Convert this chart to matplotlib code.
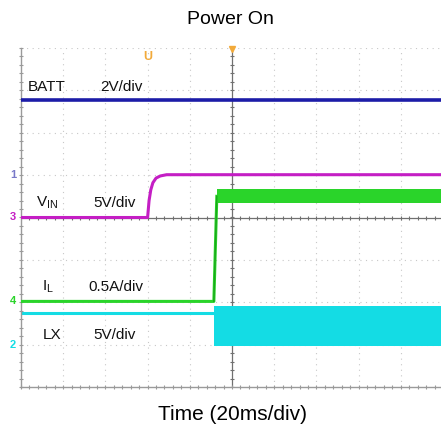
import numpy as np
import matplotlib.pyplot as plt

plt.rcParams['font.family'] = ['Liberation Sans', 'DejaVu Sans']
plt.rcParams['mathtext.fontset'] = 'custom'
plt.rcParams['mathtext.rm'] = 'Liberation Sans'

# time in ms (20 ms/div), screen position in divisions
batt_t = [-100, 100]
batt_y = [2.78, 2.78]

vin_t = [-100, -40, -39.3, -38.5, -37.5, -36, -34, -31, 100]
vin_y = [0.0, 0.0, 0.4, 0.65, 0.82, 0.93, 0.98, 1.01, 1.01]

il_t = [-100, -8.6, -7.2]
il_y = [-1.98, -1.98, 0.5]
il_band_t = [-7.2, 100]
il_band_lo = [0.34, 0.34]
il_band_hi = [0.68, 0.68]

lx_t = [-100, -8.6]
lx_y = [-2.26, -2.26]
lx_band_t = [-8.6, 100]
lx_band_lo = [-3.04, -3.04]
lx_band_hi = [-2.08, -2.08]

c_batt = '#1c1ca8'
c_vin = '#c41ec4'
c_il = '#2ad42a'
c_lx = '#14dce4'

fig = plt.figure(figsize=(4.41, 4.30), dpi=100)
ax = fig.add_axes([21 / 441, 43 / 430, 422 / 441, 339 / 430])
ax.set_xlim(-100, 100)
ax.set_ylim(-4, 4)
ax.set_xticks([])
ax.set_yticks([])
for s in ['top', 'right']:
    ax.spines[s].set_visible(False)
for s in ['left', 'bottom']:
    ax.spines[s].set_color('#9a9a9a')
    ax.spines[s].set_linewidth(1.0)

# graticule
for gx in np.arange(-80, 100, 20):
    if gx != 0:
        ax.axvline(gx, color='#c8c8c8', lw=0.8, ls=(0, (1, 4)), zorder=0)
for gy in np.arange(-3, 5, 1):
    if gy != 0:
        ax.axhline(gy, color='#c8c8c8', lw=0.8, ls=(0, (1, 4)), zorder=0)
ax.axhline(0, color='#707070', lw=0.9, zorder=0)
ax.axvline(0, color='#707070', lw=0.9, zorder=0)
tx = np.arange(-100, 100.1, 4)
ty = np.arange(-4, 4.01, 0.2)
ax.plot(tx, np.zeros_like(tx), ls='none', marker='|', ms=3, color='#707070', mew=0.8, zorder=0)
ax.plot(np.zeros_like(ty), ty, ls='none', marker='_', ms=3, color='#707070', mew=0.8, zorder=0)
ax.plot(np.full_like(ty, -100), ty, ls='none', marker='_', ms=3, color='#9a9a9a', mew=0.8, clip_on=False, zorder=0)
ax.plot(tx, np.full_like(tx, -4), ls='none', marker='|', ms=3, color='#9a9a9a', mew=0.8, clip_on=False, zorder=0)

# traces
ax.plot(batt_t, batt_y, color=c_batt, lw=2.6, zorder=3)
ax.plot(vin_t, vin_y, color=c_vin, lw=2.2, zorder=3)
ax.fill_between(lx_band_t, lx_band_lo, lx_band_hi, color=c_lx, lw=0, zorder=2)
ax.plot(lx_t, lx_y, color=c_lx, lw=2.2, zorder=2)
ax.fill_between(il_band_t, il_band_lo, il_band_hi, color=c_il, lw=0, zorder=4)
ax.plot(il_t, il_y, color=c_il, lw=2.2, zorder=4)
ax.plot([il_t[1], il_t[2]], [il_y[1], il_y[2]], color='#1aa81a', lw=1.0, zorder=4)

# trigger markers
ax.text(-40, 3.78, 'U', color='#f2aa3a', fontsize=9, ha='center', va='center',
        fontweight='bold', zorder=5)
ax.plot([0], [3.97], marker='v', ms=4, color='#f2aa3a', clip_on=False, zorder=5)

# channel markers on left
chan = [('1', 1.01, '#7878c8'), ('3', 0.0, c_vin), ('4', -1.98, c_il), ('2', -3.0, c_lx)]
for lab, yy, col in chan:
    ax.text(-0.012, yy, lab, color=col, fontsize=8, fontweight='bold',
            ha='right', va='center', transform=ax.get_yaxis_transform(), clip_on=False)

# labels
lab_kw = dict(fontsize=11, color='#111111', va='center')
ax.text(-96.7, 3.07, 'BATT', **lab_kw)
ax.text(-62.6, 3.07, '2V/div', **lab_kw)
ax.text(-93, 0.35, r'V$_{\mathrm{IN}}$', **lab_kw)
ax.text(-65.9, 0.35, '5V/div', **lab_kw)
ax.text(-90, -1.63, r'I$_{\mathrm{L}}$', **lab_kw)
ax.text(-68.2, -1.63, '0.5A/div', **lab_kw)
ax.text(-89.6, -2.78, 'LX', **lab_kw)
ax.text(-65.9, -2.78, '5V/div', **lab_kw)

fig.text(230 / 441, 1 - 20 / 430, 'Power On', fontsize=14, ha='center', va='center')
fig.text(233 / 441, 1 - 415 / 430, 'Time (20ms/div)', fontsize=15, ha='center', va='center')

fig.savefig('out.png', dpi=100)
